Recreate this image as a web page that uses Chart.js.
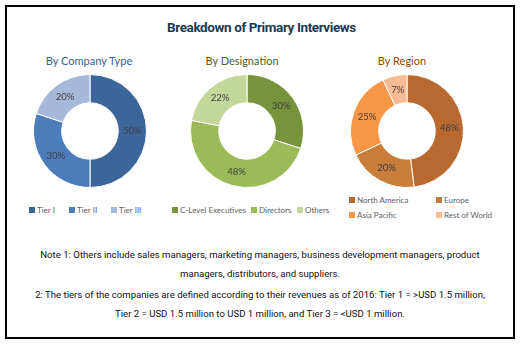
<!DOCTYPE html>
<html>
<head>
<meta charset="utf-8">
<script src="https://cdn.jsdelivr.net/npm/chart.js"></script>
<style>
  html, body { margin: 0; padding: 0; background: #fff; }
  body { width: 523px; height: 346px; position: relative; overflow: hidden; font-family: Lato, "Open Sans", sans-serif; }
  .frame { position: absolute; left: 5px; top: 5px; width: 510px; height: 334px; border: 2px solid #000; box-sizing: border-box; }
  .title { position: absolute; left: 0; width: 523px; top: 19px; text-align: center; font-family: Roboto, sans-serif; font-weight: bold; font-size: 13.5px; letter-spacing: -0.4px; color: #1b3a53; }
  .sub { position: absolute; top: 54px; width: 150px; text-align: center; font-size: 11px; }
  canvas { position: absolute; }
  .legend { position: absolute; font-size: 8px; color: #606060; white-space: nowrap; }
  .legend .item { position: absolute; display: flex; align-items: center; }
  .legend .box { width: 6px; height: 6px; margin-right: 2px; display: inline-block; }
  .notes { position: absolute; left: 5px; width: 510px; text-align: center; font-family: Roboto, sans-serif; font-size: 9.6px; color: #111; line-height: 19px; }
</style>
</head>
<body>
<div class="frame"></div>
<div class="title">Breakdown of Primary Interviews</div>

<div class="sub" style="left:14px;color:#365f91;">By Company Type</div>
<div class="sub" style="left:167px;color:#4f6228;">By Designation</div>
<div class="sub" style="left:327px;color:#984807;">By Region</div>

<canvas id="companyChart" width="114" height="114" style="left:33px;top:74px;"></canvas>
<canvas id="designationChart" width="114" height="114" style="left:190px;top:74px;"></canvas>
<canvas id="regionChart" width="114" height="114" style="left:350px;top:74px;"></canvas>

<div class="legend" id="companyLegend"></div>
<div class="legend" id="designationLegend"></div>
<div class="legend" id="regionLegend"></div>

<div class="notes" style="top:245px;">Note 1: Others include sales managers, marketing managers, business development managers, product<br>managers, distributors, and suppliers.</div>
<div class="notes" style="top:285px;">2: The tiers of the companies are defined according to their revenues as of 2016: Tier 1 = &gt;USD 1.5 million,<br>Tier 2 = USD 1.5 million to USD 1 million, and Tier 3 = &lt;USD 1 million.</div>

<script>
// shares in percent, clockwise from 12 o'clock
const companyLabels = ['Tier I', 'Tier II', 'Tier III'];
const companyShares = [50, 30, 20];

const designationLabels = ['C-Level Executives', 'Directors', 'Others'];
const designationShares = [30, 48, 22];

const regionLabels = ['North America', 'Europe', 'Asia Pacific', 'Rest of World'];
const regionShares = [48, 20, 25, 7];

const companyColors = ['#3c6699', '#4a7dba', '#a7b9da'];
const designationColors = ['#77933c', '#9bbb59', '#c4d79b'];
const regionColors = ['#b8692f', '#c97d3b', '#f79646', '#f8bb94'];

// writes "nn%" at the middle of each slice
const sliceLabels = {
    id: 'sliceLabels',
    afterDatasetsDraw(chart) {
        const ctx = chart.ctx;
        const meta = chart.getDatasetMeta(0);
        const values = chart.data.datasets[0].data;
        ctx.save();
        ctx.font = '9.5px Lato, sans-serif';
        ctx.fillStyle = '#404040';
        ctx.textAlign = 'center';
        ctx.textBaseline = 'middle';
        meta.data.forEach((arc, i) => {
            const pos = arc.tooltipPosition();
            ctx.fillText(values[i] + '%', pos.x, pos.y);
        });
        ctx.restore();
    }
};

const renderDonut = (canvasId, labels, data, colors) => {
    const ctx = document.getElementById(canvasId).getContext('2d');
    new Chart(ctx, {
        type: 'doughnut',
        data: {
            labels,
            datasets: [{
                data,
                backgroundColor: colors,
                borderColor: '#ffffff',
                borderWidth: 1,
            }],
        },
        options: {
            responsive: false,
            animation: false,
            cutout: '50%',
            layout: { padding: 0 },
            plugins: {
                legend: { display: false },
                tooltip: { enabled: false },
            },
        },
        plugins: [sliceLabels],
    });
};

const renderLegend = (elId, labels, colors, spots) => {
    const el = document.getElementById(elId);
    labels.forEach((label, i) => {
        const item = document.createElement('div');
        item.className = 'item';
        item.style.left = spots[i][0] + 'px';
        item.style.top = spots[i][1] + 'px';
        item.innerHTML = `<span class="box" style="background:${colors[i]}"></span>${label}`;
        el.appendChild(item);
    });
};

renderDonut('companyChart', companyLabels, companyShares, companyColors);
renderDonut('designationChart', designationLabels, designationShares, designationColors);
renderDonut('regionChart', regionLabels, regionShares, regionColors);

renderLegend('companyLegend', companyLabels, companyColors, [[29, 205], [69, 205], [111, 205]]);
renderLegend('designationLegend', designationLabels, designationColors, [[172, 205], [251, 205], [297, 205]]);
renderLegend('regionLegend', regionLabels, regionColors, [[349, 195], [436, 195], [349, 210], [436, 210]]);
</script>
</body>
</html>
